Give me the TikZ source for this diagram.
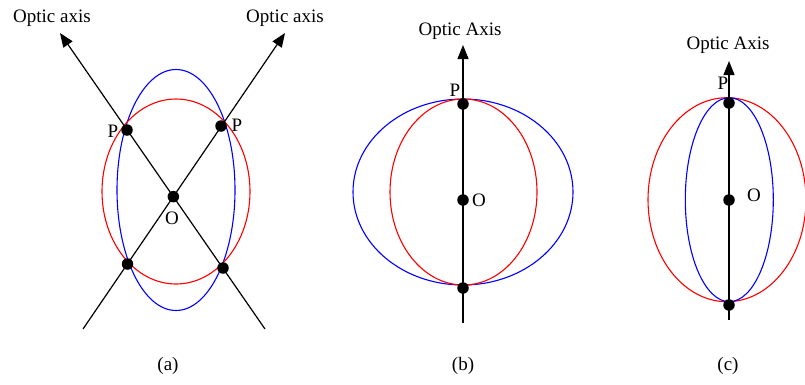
\documentclass[tikz,border=0pt]{standalone}
\usepackage{fontspec}
\setmainfont{Liberation Serif}
\usetikzlibrary{arrows.meta}
\begin{document}
\begin{tikzpicture}[x=1pt,y=-1pt,
  lbl/.style={font=\fontsize{19}{22}\selectfont,inner sep=0pt},
  dot/.style={circle,fill=black,minimum size=11.5pt,inner sep=0pt},
  axisline/.style={line width=1.2pt,-{Triangle[length=14pt,width=11pt]}},
  plainline/.style={line width=1.2pt},
  blueell/.style={draw=blue,line width=1.1pt},
  redell/.style={draw=red,line width=1.1pt}]
\clip (0,0) rectangle (805,384);
\useasboundingbox (0,0) rectangle (805,384);
% ---------------- (a) ----------------
\draw[blueell] (176,190) ellipse [x radius=59pt, y radius=120.5pt];
\draw[redell] (176,191.5) ellipse [x radius=74pt, y radius=92.5pt];
\coordinate (aS1) at (265,329);
\coordinate (aT1) at (60,33);
\coordinate (aS2) at (83,329);
\coordinate (aT2) at (285,33);
\draw[axisline] (aS1) -- (aT1);
\draw[axisline] (aS2) -- (aT2);
\node[dot] (aO) at (intersection of aS1--aT1 and aS2--aT2) {};
\node[dot] (aP1) at (127,130) {};
\node[dot] (aP2) at (221,126) {};
\node[dot] (aB1) at (127.5,264) {};
\node[dot] (aB2) at (223,268) {};
\node[lbl] (aPl1) at (113,131) {P};
\node[lbl] (aPl2) at (237,125) {P};
\node[lbl] (aOl) at (172,218) {O};
\node[lbl] (aax1) at (52,18) {Optic axis};
\node[lbl] (aax2) at (285,18) {Optic axis};
\node[lbl] (acap) at (168,366) {(a)};
% ---------------- (b) ----------------
\draw[blueell] (463,192) ellipse [x radius=110pt, y radius=93pt];
\draw[redell] (463.5,192) ellipse [x radius=73.5pt, y radius=93pt];
\coordinate (bS) at (463,323);
\coordinate (bT) at (463,45);
\draw[axisline] (bS) -- (bT);
\node[dot] (bP) at (463,104) {};
\node[dot] (bO) at (463,200) {};
\node[dot] (bB) at (463,288) {};
\node[lbl] (bPl) at (455,90) {P};
\node[lbl] (bOl) at (479,200) {O};
\node[lbl] (bax) at (460,31) {Optic Axis};
\node[lbl] (bcap) at (463,366) {(b)};
% ---------------- (c) ----------------
\draw[redell] (727,199.7) ellipse [x radius=79pt, y radius=102pt];
\draw[blueell] (729.3,199.7) ellipse [x radius=44pt, y radius=102pt];
\coordinate (cS) at (729,320);
\coordinate (cT) at (729,61);
\draw[axisline] (cS) -- (cT);
\node[dot] (cP) at (729,103) {};
\node[dot] (cO) at (729,200) {};
\node[dot] (cB) at (729,305) {};
\node[lbl] (cPl) at (723,83) {P};
\node[lbl] (cOl) at (754,195) {O};
\node[lbl] (cax) at (728,45) {Optic Axis};
\node[lbl] (ccap) at (728,366) {(c)};
\end{tikzpicture}
\end{document}
